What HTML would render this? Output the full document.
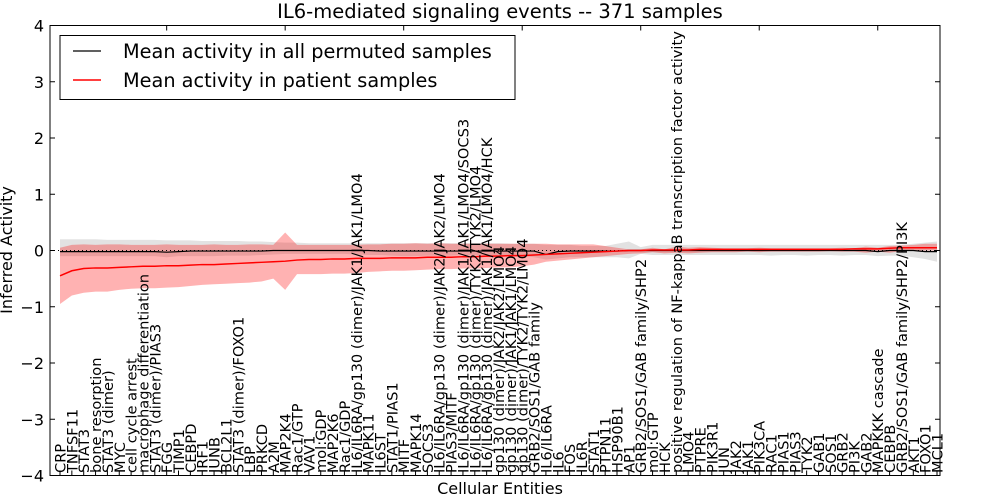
<!DOCTYPE html>
<html><head><meta charset="utf-8"><style>
body{margin:0;background:#fff;}
svg{display:block;font-family:"DejaVu Sans","Liberation Sans",sans-serif;}
</style></head><body>
<svg id="chart" width="1000" height="500"></svg>
<script>
const categories=["CRP","TNFSF11","STAT3","bone resorption","STAT3 (dimer)","MYC","cell cycle arrest","macrophage differentiation","STAT3 (dimer)/PIAS3","FGG","TIMP1","CEBPD","IRF1","JUNB","BCL2L1","STAT3 (dimer)/FOXO1","LBP","PRKCD","A2M","MAP2K4","Rac1/GTP","VAV1","mol:GDP","MAP2K6","Rac1/GDP","IL6/IL6RA/gp130 (dimer)/JAK1/JAK1/LMO4","MAPK11","IL6ST","STAT1/PIAS1","MITF","MAPK14","SOCS3","IL6/IL6RA/gp130 (dimer)/JAK2/JAK2/LMO4","PIAS3/MITF","IL6/IL6RA/gp130 (dimer)/JAK1/JAK1/LMO4/SOCS3","IL6/IL6RA/gp130 (dimer)/TYK2/TYK2/LMO4","IL6/IL6RA/gp130 (dimer)/JAK1/JAK1/LMO4/HCK","gp130 (dimer)/JAK2/JAK2/LMO4","gp130 (dimer)/JAK1/JAK1/LMO4","gp130 (dimer)/TYK2/TYK2/LMO4","GRB2/SOS1/GAB family","IL6/IL6RA","IL6","FOS","IL6R","STAT1","PTPN11","HSP90B1","AP1","GRB2/SOS1/GAB family/SHP2","mol:GTP","HCK","positive regulation of NF-kappaB transcription factor activity","LMO4","PTPRE","PIK3R1","JUN","JAK2","JAK1","PIK3CA","RAC1","PIAS1","PIAS3","TYK2","GAB1","SOS1","GRB2","PI3K","GAB2","MAPKKK cascade","CEBPB","GRB2/SOS1/GAB family/SHP2/PI3K","AKT1","FOXO1","MCL1"];
const patientMean=[-0.45,-0.36,-0.32,-0.31,-0.31,-0.3,-0.29,-0.28,-0.28,-0.27,-0.27,-0.26,-0.25,-0.25,-0.24,-0.23,-0.22,-0.21,-0.2,-0.19,-0.17,-0.16,-0.16,-0.15,-0.15,-0.14,-0.14,-0.14,-0.13,-0.13,-0.13,-0.12,-0.12,-0.12,-0.11,-0.11,-0.1,-0.1,-0.09,-0.09,-0.08,-0.07,-0.06,-0.05,-0.04,-0.03,-0.02,-0.01,0,0,0.01,0.01,0.01,0.01,0.02,0.02,0.02,0.02,0.02,0.02,0.02,0.02,0.02,0.02,0.02,0.02,0.02,0.03,0.03,0.03,0.04,0.05,0.05,0.05,0.05];
const patientLo=[-0.95,-0.8,-0.75,-0.73,-0.73,-0.7,-0.68,-0.67,-0.67,-0.66,-0.65,-0.63,-0.61,-0.6,-0.59,-0.58,-0.57,-0.55,-0.5,-0.7,-0.42,-0.42,-0.42,-0.41,-0.41,-0.4,-0.38,-0.37,-0.36,-0.36,-0.35,-0.34,-0.33,-0.33,-0.32,-0.32,-0.31,-0.3,-0.3,-0.28,-0.25,-0.2,-0.18,-0.16,-0.14,-0.12,-0.1,-0.08,-0.06,-0.05,-0.03,-0.05,-0.04,-0.05,-0.04,-0.03,-0.03,-0.03,-0.02,-0.03,-0.02,-0.02,-0.02,-0.02,-0.02,-0.01,-0.02,-0.02,-0.04,-0.02,-0.04,-0.01,0,0,0];
const patientHi=[0.05,0.1,0.11,0.1,0.11,0.11,0.1,0.1,0.1,0.11,0.1,0.1,0.1,0.11,0.1,0.1,0.11,0.11,0.1,0.32,0.1,0.1,0.1,0.1,0.1,0.1,0.11,0.11,0.12,0.12,0.13,0.12,0.13,0.12,0.12,0.12,0.12,0.12,0.12,0.12,0.12,0.12,0.11,0.11,0.11,0.11,0.08,0.05,0.02,0.02,0.05,0.02,0.07,0.05,0.06,0.05,0.04,0.04,0.04,0.05,0.04,0.04,0.04,0.04,0.04,0.04,0.05,0.04,0.07,0.05,0.08,0.09,0.1,0.12,0.12];
const permMean=[-0.02,-0.02,-0.02,-0.02,-0.02,-0.02,-0.02,-0.02,-0.02,-0.03,-0.02,-0.01,-0.01,-0.01,-0.01,-0.01,-0.01,-0.01,0,0,0,0,0,0,0,0,0,-0.01,-0.01,-0.01,-0.01,-0.01,-0.01,-0.01,-0.01,-0.01,-0.01,-0.01,-0.01,-0.01,-0.01,-0.07,-0.02,-0.01,-0.01,-0.01,-0.01,-0.01,0,0,0,0,0,0,0,0,0,0,0,0,0,0,0,0,0,0,0,0,0,-0.02,0,0,0,-0.02,-0.02];
const permLo=[-0.1,-0.1,-0.1,-0.1,-0.1,-0.1,-0.1,-0.1,-0.1,-0.12,-0.1,-0.1,-0.1,-0.1,-0.09,-0.09,-0.09,-0.08,-0.07,-0.06,-0.06,-0.06,-0.06,-0.06,-0.06,-0.07,-0.08,-0.08,-0.09,-0.1,-0.1,-0.09,-0.09,-0.09,-0.08,-0.08,-0.09,-0.09,-0.1,-0.1,-0.12,-0.16,-0.14,-0.12,-0.12,-0.12,-0.12,-0.12,-0.14,-0.06,-0.08,-0.08,-0.08,-0.08,-0.08,-0.08,-0.08,-0.08,-0.08,-0.08,-0.09,-0.08,-0.08,-0.09,-0.08,-0.08,-0.09,-0.08,-0.08,-0.1,-0.09,-0.09,-0.12,-0.15,-0.2];
const permHi=[0.2,0.2,0.2,0.2,0.19,0.19,0.19,0.19,0.19,0.18,0.18,0.18,0.17,0.17,0.17,0.17,0.16,0.16,0.15,0.14,0.14,0.13,0.13,0.13,0.13,0.13,0.13,0.13,0.13,0.13,0.13,0.13,0.13,0.13,0.13,0.13,0.13,0.13,0.12,0.12,0.12,0.1,0.1,0.1,0.08,0.08,0.08,0.12,0.16,0.06,0.1,0.1,0.1,0.1,0.1,0.1,0.1,0.1,0.1,0.1,0.1,0.1,0.1,0.1,0.1,0.1,0.1,0.1,0.1,0.1,0.1,0.1,0.12,0.14,0.16];
const yTicks=[4,3,2,1,0,-1,-2,-3,-4];
const yTickLabels=["4","3","2","1","0","\u22121","\u22122","\u22123","\u22124"];

const NS="http://www.w3.org/2000/svg";
const svg=document.getElementById('chart');
const L=50,R=940,T=25.5,B=475.5;
const x=i=>60+i*(877/(categories.length-1));
const y=v=>250.5-v*56.25;
function mk(tag,attrs,parent){const e=document.createElementNS(NS,tag);for(const k in attrs)e.setAttribute(k,attrs[k]);(parent||svg).appendChild(e);return e;}
function band(lo,hi,fill,name){let d='M'+lo.map((v,i)=>x(i)+','+y(v)).join('L');for(let i=hi.length-1;i>=0;i--)d+='L'+x(i)+','+y(hi[i]);d+='Z';const p=mk('path',{d:d,fill:fill});

}
function line(arr,stroke,name,w){const p=mk('path',{d:'M'+arr.map((v,i)=>x(i)+','+y(v)).join('L'),fill:'none',stroke:stroke,'stroke-width':w});

}
band(permLo,permHi,'rgba(190,190,190,0.45)','permuted-band');
band(patientLo,patientHi,'rgba(255,0,0,0.3)','patient-band');
line(permMean,'#000','permuted-mean-line',1.2);
const dz=mk('line',{x1:L,x2:R,y1:y(0),y2:y(0),stroke:'#000','stroke-width':1,'stroke-dasharray':'1,3'});


line(patientMean,'#f00','patient-mean-line',1.5);
const frame=mk('rect',{x:L,y:T,width:R-L,height:B-T,fill:'none',stroke:'#000','stroke-width':1});


yTicks.forEach((v,i)=>{
 mk('line',{x1:L,x2:L+5,y1:y(v),y2:y(v),stroke:'#000'});
 mk('line',{x1:R,x2:R-5,y1:y(v),y2:y(v),stroke:'#000'});
 const t=mk('text',{x:L-6,y:y(v)+6,'text-anchor':'end','font-size':16});
 t.textContent=yTickLabels[i];
 
 
});
for(let k=9;k<categories.length;k+=10){mk('line',{x1:x(k),x2:x(k),y1:T,y2:T+5,stroke:'#000'});}
categories.forEach((c,i)=>{
 mk('line',{x1:x(i),x2:x(i),y1:B,y2:B-5,stroke:'#000'});
 const t=mk('text',{transform:'translate('+(x(i)+5.5)+',473) rotate(-90)','font-size':14.6});
 t.textContent=c;
 
 
});
</script>
<div style="position:absolute;left:0;top:0;width:1000px;height:500px;pointer-events:none">
<svg width="1000" height="500">
<text x="500" y="18" text-anchor="middle" font-size="19.5">IL6-mediated signaling events -- 371 samples</text>
<text x="500" y="494" text-anchor="middle" font-size="16">Cellular Entities</text>
<text transform="translate(12,250) rotate(-90)" text-anchor="middle" font-size="16">Inferred Activity</text>
<g>
<rect x="60" y="35.5" width="455" height="64" fill="#fff" stroke="#000" stroke-width="1"/>
<line x1="73" x2="101" y1="51" y2="51" stroke="#000" stroke-width="1.2"/>
<text x="123" y="58" font-size="19.3">Mean activity in all permuted samples</text>
<line x1="73" x2="101" y1="80" y2="80" stroke="#f00" stroke-width="1.5"/>
<text x="123" y="87" font-size="19.3">Mean activity in patient samples</text>
</g>
</svg></div>
</body></html>
